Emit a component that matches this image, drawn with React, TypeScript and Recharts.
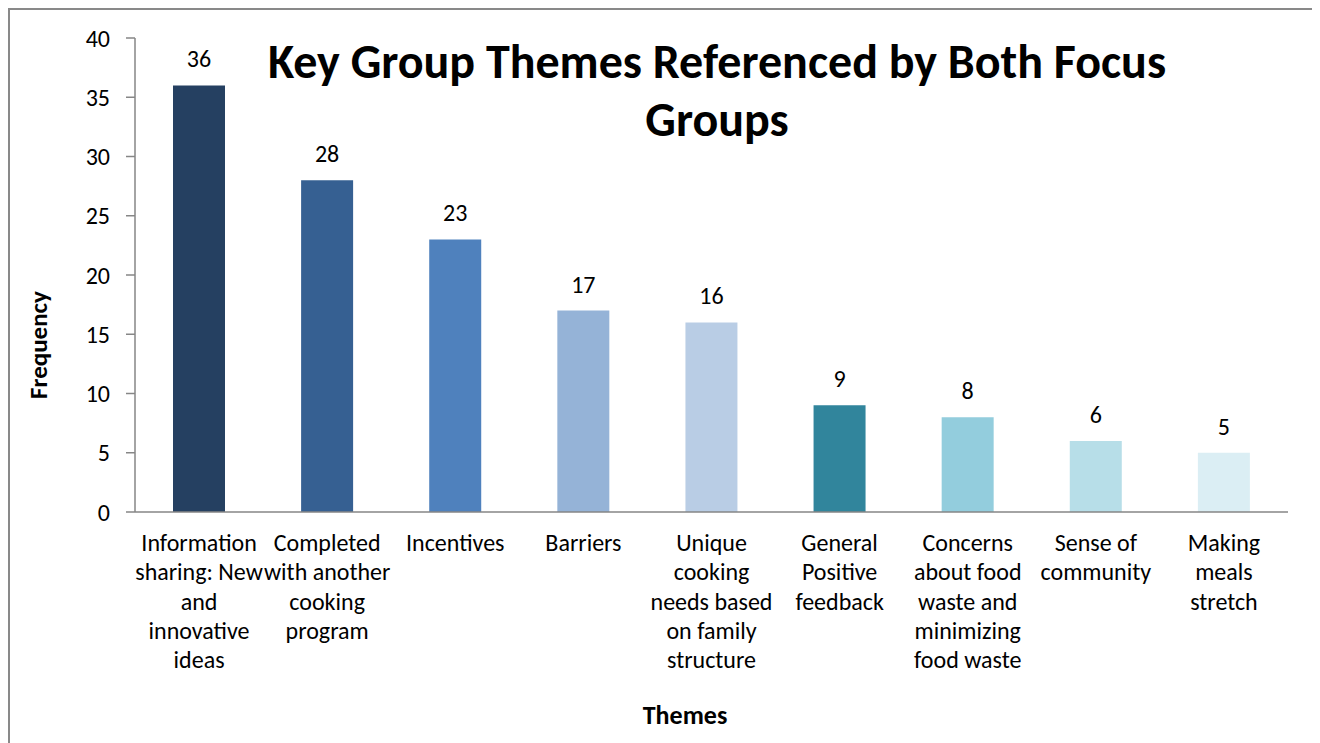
import React from "react";
import { BarChart, Bar, XAxis, YAxis, Cell, LabelList } from "recharts";

const categories = [
  "Information sharing: New and innovative ideas",
  "Completed with another cooking program",
  "Incentives",
  "Barriers",
  "Unique cooking needs based on family structure",
  "General Positive feedback",
  "Concerns about food waste and minimizing food waste",
  "Sense of community",
  "Making meals stretch",
];
const tickLines = [
  ["Information", "sharing: New", "and", "innovative", "ideas"],
  ["Completed", "with another", "cooking", "program"],
  ["Incentives"],
  ["Barriers"],
  ["Unique", "cooking", "needs based", "on family", "structure"],
  ["General", "Positive", "feedback"],
  ["Concerns", "about food", "waste and", "minimizing", "food waste"],
  ["Sense of", "community"],
  ["Making", "meals", "stretch"],
];
const values = [36, 28, 23, 17, 16, 9, 8, 6, 5];
const barColors = ["#254061", "#366092", "#4F81BD", "#95B3D7", "#B9CDE5", "#31859C", "#93CDDD", "#B7DEE8", "#DBEEF4"];
const yTicks = [0, 5, 10, 15, 20, 25, 30, 35, 40];

const data = categories.map((c, i) => ({ name: c, value: values[i] }));

const FONT = "Carlito, Lato, sans-serif";

const XTick = (props: any) => {
  const { x, y, payload } = props;
  const idx = categories.indexOf(payload.value);
  const lines = idx >= 0 ? tickLines[idx] : [String(payload.value)];
  return (
    <text x={x} y={y} textAnchor="middle" fontFamily={FONT} fontSize={24} fill="#000">
      {lines.map((l, i) => (
        <tspan key={i} x={x} dy={i === 0 ? 39 : 29.3}>
          {l}
        </tspan>
      ))}
    </text>
  );
};

export default function App() {
  return (
    <div
      style={{
        position: "relative",
        width: 1304,
        height: 740,
        border: "2px solid #898989",
        background: "#fff",
        fontFamily: FONT,
      }}
    >
      <BarChart
        width={1304}
        height={733}
        data={data}
        margin={{ top: 28, right: 26, left: 65, bottom: 31 }}
      >
        <XAxis
          dataKey="name"
          interval={0}
          height={200}
          tickLine={false}
          tickSize={0}
          tickMargin={0}
          axisLine={{ stroke: "#868686", strokeWidth: 1.5 }}
          tick={<XTick />}
        />
        <YAxis
          width={60}
          domain={[0, 40]}
          ticks={yTicks}
          interval={0}
          tickSize={9}
          tickMargin={16}
          axisLine={{ stroke: "#868686", strokeWidth: 1.5 }}
          tickLine={{ stroke: "#868686", strokeWidth: 1.5 }}
          tick={{ fill: "#000", fontSize: 24, fontFamily: FONT }}
        />
        <Bar dataKey="value" barSize={52} isAnimationActive={false}>
          {data.map((d, i) => (
            <Cell key={i} fill={barColors[i]} />
          ))}
          <LabelList dataKey="value" position="top" offset={18} fill="#000" fontSize={24} fontFamily={FONT} />
        </Bar>
      </BarChart>
      <div
        style={{
          position: "absolute",
          left: 707,
          top: 23,
          transform: "translateX(-50%)",
          whiteSpace: "nowrap",
          textAlign: "center",
          fontWeight: "bold",
          fontSize: 48,
          lineHeight: "58px",
          color: "#000",
        }}
      >
        Key Group Themes Referenced by Both Focus
        <br />
        Groups
      </div>
      <div
        style={{
          position: "absolute",
          left: 28,
          top: 335,
          transform: "translate(-50%, -50%) rotate(-90deg)",
          whiteSpace: "nowrap",
          fontWeight: "bold",
          fontSize: 25,
          color: "#000",
        }}
      >
        Frequency
      </div>
      <div
        style={{
          position: "absolute",
          left: 675,
          top: 705,
          transform: "translate(-50%, -50%)",
          whiteSpace: "nowrap",
          fontWeight: "bold",
          fontSize: 26,
          color: "#000",
        }}
      >
        Themes
      </div>
    </div>
  );
}
